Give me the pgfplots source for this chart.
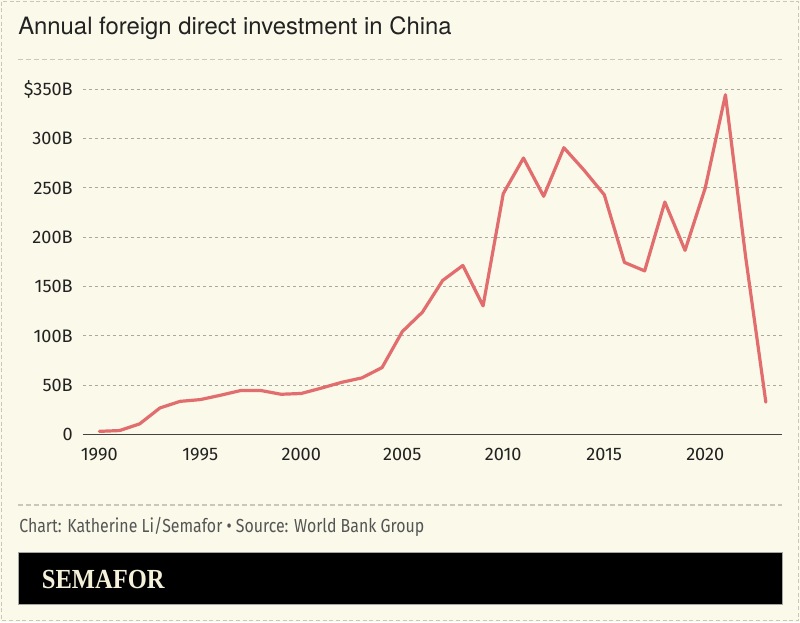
\documentclass[border=0pt]{standalone}
\usepackage{graphicx}
\usepackage{pgfplots}
\pgfplotsset{compat=1.18}
\usepackage{fontspec}
\setmainfont{Fira Sans}
\newfontfamily\titlefont{TeX Gyre Heros}
\newfontfamily\logofont{Liberation Serif}
\definecolor{bg}{HTML}{FBF9E9}
\definecolor{linec}{HTML}{E26D6F}
\definecolor{gridc}{HTML}{ABA99E}
\definecolor{framec}{HTML}{C9C7BA}
\definecolor{txt}{HTML}{222222}
\definecolor{foot}{HTML}{555555}
\definecolor{logoc}{HTML}{F5F0DA}
\begin{document}
\begin{tikzpicture}
\begin{scope}[x=0.75pt,y=-0.75pt]
\fill[bg] (0,0) rectangle (800,622);
\draw[framec, line width=0.9pt, dash pattern=on 3pt off 2pt] (1.5,1.5) rectangle (798.5,620.5);
\node[anchor=base west, inner sep=0pt, text=txt, font=\titlefont\fontsize{17.9}{21}\selectfont] at (18,34.3) {Annual foreign direct investment in China};
\draw[framec, line width=0.9pt, dash pattern=on 3.75pt off 2.25pt] (18,59.3) -- (782,59.3);
\draw[framec, line width=0.9pt, dash pattern=on 3.75pt off 2.25pt] (18,505) -- (782,505);
\node[anchor=base west, inner sep=0pt, text=foot, font=\fontsize{14.15}{17}\selectfont] at (19,532.3) {\resizebox{303.75pt}{\height}{Chart: Katherine Li/Semafor • Source: World Bank Group}};
\filldraw[fill=black, draw=gray!70, line width=0.6pt] (18,552.3) rectangle (782.3,604);
\node[anchor=base west, inner sep=0pt, text=logoc, font=\logofont\bfseries\fontsize{20.7}{24}\selectfont] at (41.7,588.3) {\resizebox{91.95pt}{\height}{SEMAFOR}};
\end{scope}
\begin{axis}[
  at={(62.25pt,-325.875pt)}, anchor=south west,
  scale only axis, width=524.25pt, height=258.9pt,
  xmin=1989.193, xmax=2023.8, ymin=0, ymax=350,
  clip=false,
  axis x line*=bottom, axis y line*=left,
  x axis line style={-, draw=txt!85, line width=1.2pt},
  y axis line style={draw=none},
  xtick={1990,1995,2000,2005,2010,2015,2020},
  xticklabels={1990,1995,2000,2005,2010,2015,2020},
  ytick={0,50,100,150,200,250,300,350},
  yticklabels={0,50B,100B,150B,200B,250B,300B,\$350B},
  major tick length=0pt, tick style={draw=none},
  ymajorgrids,
  major grid style={gridc, line width=0.75pt, dash pattern=on 2.25pt off 2.25pt},
  ticklabel style={font=\fontsize{13.6}{16}\selectfont, text=txt},
  yticklabel style={anchor=east, inner sep=0pt, xshift=-7.5pt},
  xticklabel style={anchor=north, inner sep=0pt, yshift=-10.4pt},
  /pgf/number format/assume math mode=true,
]
\addplot[linec, line width=2.4pt, line join=round, line cap=round, mark=none] coordinates {
(1990,3.2) (1991,4.0) (1992,10.8) (1993,26.9) (1994,33.6) (1995,35.4)
(1996,39.8) (1997,44.6) (1998,44.6) (1999,40.8) (2000,41.6) (2001,47.1)
(2002,52.9) (2003,57.4) (2004,67.9) (2005,104.3) (2006,124.1) (2007,156.2)
(2008,171.4) (2009,130.4) (2010,244.2) (2011,280.3) (2012,241.5) (2013,290.8)
(2014,268.0) (2015,243.1) (2016,174.5) (2017,165.9) (2018,235.7) (2019,186.7)
(2020,250.0) (2021,344.5) (2022,180.0) (2023,32.8)
};
\end{axis}
\end{tikzpicture}
\end{document}
